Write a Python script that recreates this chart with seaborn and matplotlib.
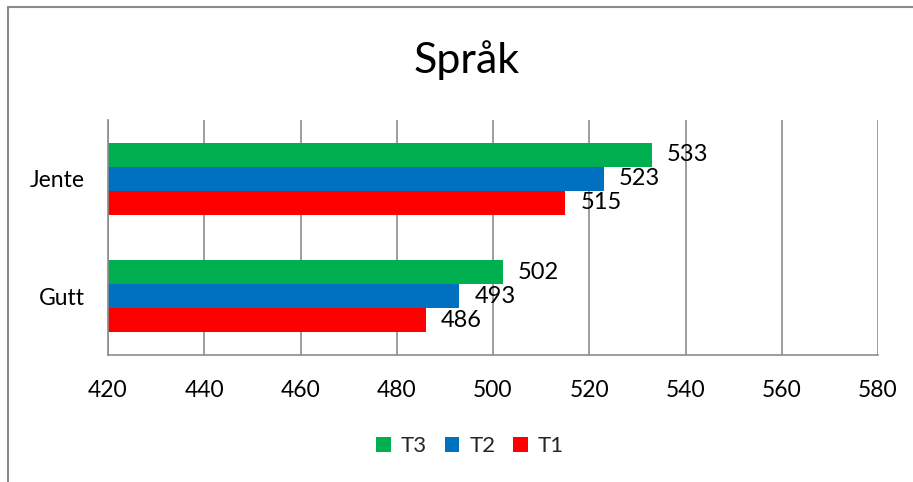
import pandas as pd
import matplotlib.pyplot as plt
import matplotlib.lines as mlines
import seaborn as sns

# data
kjonn = ['Jente', 'Gutt']
serier = ['T3', 'T2', 'T1']
t3 = [533, 502]
t2 = [523, 493]
t1 = [515, 486]
farger = {'T3': '#00B050', 'T2': '#0070C0', 'T1': '#FF0000'}
x_ticks = [420, 440, 460, 480, 500, 520, 540, 560, 580]

df = pd.DataFrame({
	'kjonn': kjonn * 3
	, 'serie': ['T3'] * 2 + ['T2'] * 2 + ['T1'] * 2
	, 'poeng': t3 + t2 + t1
})

sns.set_style('white')
plt.rcParams['font.family'] = ['Lato', 'DejaVu Sans']

fig = plt.figure(figsize=(9.13, 4.82), dpi=100)
ax = fig.add_axes([108 / 913, 1 - 355 / 482, 770 / 913, 235 / 482])

sns.barplot(
	data=df
	, x='poeng'
	, y='kjonn'
	, hue='serie'
	, order=kjonn
	, hue_order=serier
	, palette=farger
	, orient='h'
	, width=0.61
	, saturation=1
	, linewidth=0
	, ax=ax
)

for cont in ax.containers:
	ax.bar_label(cont, fmt='%d', padding=11, fontsize=17, color='black')

grid_col = '#8c8c8c'
ax.set_xlim(420, 580)
ax.set_ylim(1.5, -0.5)
ax.set_xticks(x_ticks)
ax.xaxis.grid(True, color=grid_col, linewidth=1.2)
ax.set_axisbelow(True)
ax.tick_params(axis='x', length=0, pad=18, labelsize=16.5, labelcolor='black')
ax.tick_params(axis='y', length=0, pad=17, labelsize=16.5, labelcolor='black')
ax.set_xlabel('')
ax.set_ylabel('')
for side in ['top', 'right']:
	ax.spines[side].set_visible(False)
for side in ['left', 'bottom']:
	ax.spines[side].set_color(grid_col)
	ax.spines[side].set_linewidth(1.2)

ax.get_legend().remove()
handles, labels = ax.get_legend_handles_labels()
fig.legend(
	handles, labels
	, loc='center'
	, bbox_to_anchor=(470 / 913, 1 - 446 / 482)
	, ncol=3
	, frameon=False
	, fontsize=16
	, handlelength=0.65
	, handleheight=0.65
	, handletextpad=0.45
	, columnspacing=0.8
)

fig.text(467 / 913, 1 - 60 / 482, 'Språk', ha='center', va='center', fontsize=31, color='black')

# outer chart frame (only left and top edge visible)
ramme = '#8a8a8a'
fig.add_artist(mlines.Line2D([8 / 913, 8 / 913], [0, 1 - 7 / 482], color=ramme, linewidth=1.5))
fig.add_artist(mlines.Line2D([8 / 913, 1], [1 - 7 / 482, 1 - 7 / 482], color=ramme, linewidth=1.5))

fig.savefig('out.png', dpi=100)
